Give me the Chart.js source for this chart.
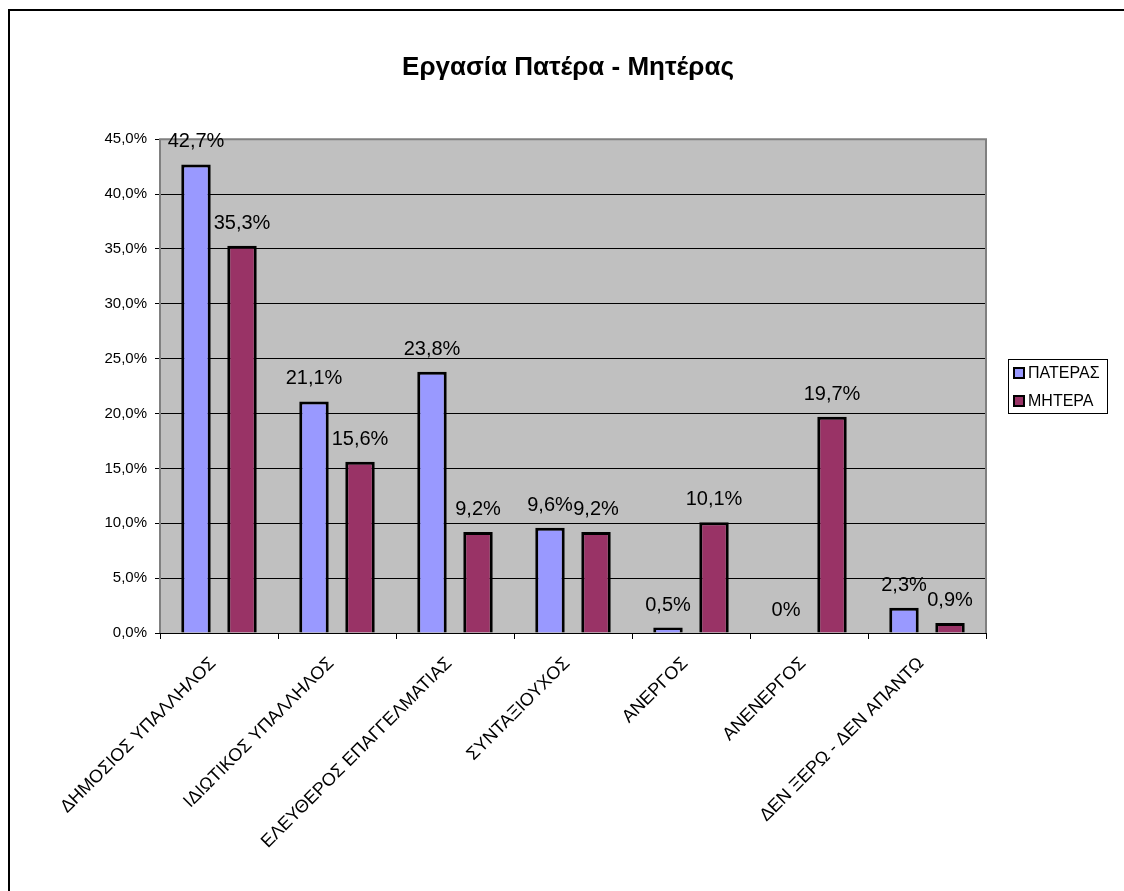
<!DOCTYPE html>
<html>
<head>
<meta charset="utf-8">
<script src="https://cdn.jsdelivr.net/npm/chart.js@4.4.0/dist/chart.umd.min.js"></script>
<style>
  html, body { margin: 0; padding: 0; background: #fff; overflow: hidden; }
  #wrap { position: relative; width: 1124px; height: 891px; }
  #frame {
    position: absolute; left: 8px; top: 9px; width: 1200px; height: 1000px;
    border: 2px solid #000; pointer-events: none;
  }
</style>
</head>
<body>
<div id="wrap">
  <canvas id="chart" width="1124" height="891"></canvas>
  <div id="frame"></div>
</div>
<script>
// Data
const categories = [
  'ΔΗΜΟΣΙΟΣ ΥΠΑΛΛΗΛΟΣ',
  'ΙΔΙΩΤΙΚΟΣ ΥΠΑΛΛΗΛΟΣ',
  'ΕΛΕΥΘΕΡΟΣ ΕΠΑΓΓΕΛΜΑΤΙΑΣ',
  'ΣΥΝΤΑΞΙΟΥΧΟΣ',
  'ΑΝΕΡΓΟΣ',
  'ΑΝΕΝΕΡΓΟΣ',
  'ΔΕΝ ΞΕΡΩ - ΔΕΝ ΑΠΑΝΤΩ'
];
const fatherValues = [42.7, 21.1, 23.8, 9.6, 0.5, 0, 2.3];
const motherValues = [35.3, 15.6, 9.2, 9.2, 10.1, 19.7, 0.9];
const yTicks = [0, 5, 10, 15, 20, 25, 30, 35, 40, 45];

const FONT = 'Arial, "Liberation Sans", sans-serif';
const fmtTick = v => v.toFixed(1).replace('.', ',') + '%';
const fmtLabel = v => v === 0 ? '0%' : v.toFixed(1).replace('.', ',') + '%';

// Gray plot area + border, value labels and boxed legend
const excelLook = {
  id: 'excelLook',
  beforeDraw(chart) {
    const { ctx, chartArea: a } = chart;
    ctx.save();
    ctx.fillStyle = '#C0C0C0';
    ctx.fillRect(a.left, a.top, a.right - a.left, a.bottom - a.top);
    ctx.restore();
  },
  afterDatasetsDraw(chart) {
    const { ctx, chartArea: a } = chart;
    ctx.save();
    // plot border (left, top, right)
    ctx.strokeStyle = '#808080';
    ctx.lineWidth = 2;
    ctx.beginPath();
    ctx.moveTo(a.left, a.bottom);
    ctx.lineTo(a.left, a.top);
    ctx.lineTo(a.right, a.top);
    ctx.lineTo(a.right, a.bottom);
    ctx.stroke();

    // value labels
    ctx.fillStyle = '#000';
    ctx.font = '20px ' + FONT;
    ctx.textAlign = 'center';
    ctx.textBaseline = 'alphabetic';
    chart.data.datasets.forEach((ds, i) => {
      chart.getDatasetMeta(i).data.forEach((bar, j) => {
        ctx.fillText(fmtLabel(ds.data[j]), bar.x, bar.y - 17);
      });
    });

    // legend
    const lx = 1008, ly = 359, lw = 99, lh = 54;
    ctx.fillStyle = '#fff';
    ctx.fillRect(lx, ly, lw, lh);
    ctx.strokeStyle = '#000';
    ctx.lineWidth = 1;
    ctx.strokeRect(lx + 0.5, ly + 0.5, lw, lh);
    ctx.font = '16px ' + FONT;
    ctx.textAlign = 'left';
    ctx.textBaseline = 'middle';
    chart.data.datasets.forEach((ds, i) => {
      const cy = ly + 14 + i * 28;
      ctx.fillStyle = ds.backgroundColor;
      ctx.fillRect(lx + 6, cy - 5, 10, 10);
      ctx.lineWidth = 2;
      ctx.strokeStyle = '#000';
      ctx.strokeRect(lx + 6, cy - 5, 10, 10);
      ctx.fillStyle = '#000';
      ctx.fillText(ds.label, lx + 20, cy + 1);
    });
    ctx.restore();
  }
};

const ctx = document.getElementById('chart').getContext('2d');

new Chart(ctx, {
  type: 'bar',
  data: {
    labels: categories,
    datasets: [
      {
        label: 'ΠΑΤΕΡΑΣ',
        data: fatherValues,
        backgroundColor: '#9999FF',
        borderColor: '#000',
        borderWidth: 3,
        categoryPercentage: 0.78,
        barPercentage: 0.64
      },
      {
        label: 'ΜΗΤΕΡΑ',
        data: motherValues,
        backgroundColor: '#993366',
        borderColor: '#000',
        borderWidth: 3,
        categoryPercentage: 0.78,
        barPercentage: 0.64
      }
    ]
  },
  options: {
    responsive: false,
    animation: false,
    devicePixelRatio: 1,
    layout: { padding: { left: 12, right: 0, top: 0, bottom: 0 } },
    plugins: {
      legend: { display: false },
      tooltip: { enabled: false },
      title: {
        display: true,
        text: 'Εργασία Πατέρα - Μητέρας',
        color: '#000',
        font: { family: FONT, size: 26, weight: 'bold' },
        padding: { top: 52, bottom: 56 }
      }
    },
    scales: {
      x: {
        offset: true,
        grid: { offset: true, drawOnChartArea: false, color: '#000', tickLength: 6 },
        border: { color: '#000', width: 1 },
        ticks: {
          color: '#000',
          font: { family: FONT, size: 18 },
          minRotation: 45,
          maxRotation: 45,
          autoSkip: false,
          padding: 14,
          labelOffset: -6
        },
        afterFit(scale) { scale.height = 258; }
      },
      y: {
        min: 0,
        max: 45,
        afterBuildTicks(scale) { scale.ticks = yTicks.map(v => ({ value: v })); },
        grid: { color: '#000', lineWidth: 1, tickLength: 5 },
        border: { display: false },
        ticks: {
          color: '#000',
          font: { family: FONT, size: 15 },
          padding: 8,
          callback: v => fmtTick(v)
        },
        afterFit(scale) { scale.width = 148; }
      },
      // empty right-hand axis that reserves room for the legend box
      yRight: {
        position: 'right',
        min: 0,
        max: 45,
        grid: { display: false },
        border: { display: false },
        ticks: { display: false },
        afterFit(scale) { scale.width = 138; }
      }
    }
  },
  plugins: [excelLook]
});
</script>
</body>
</html>
